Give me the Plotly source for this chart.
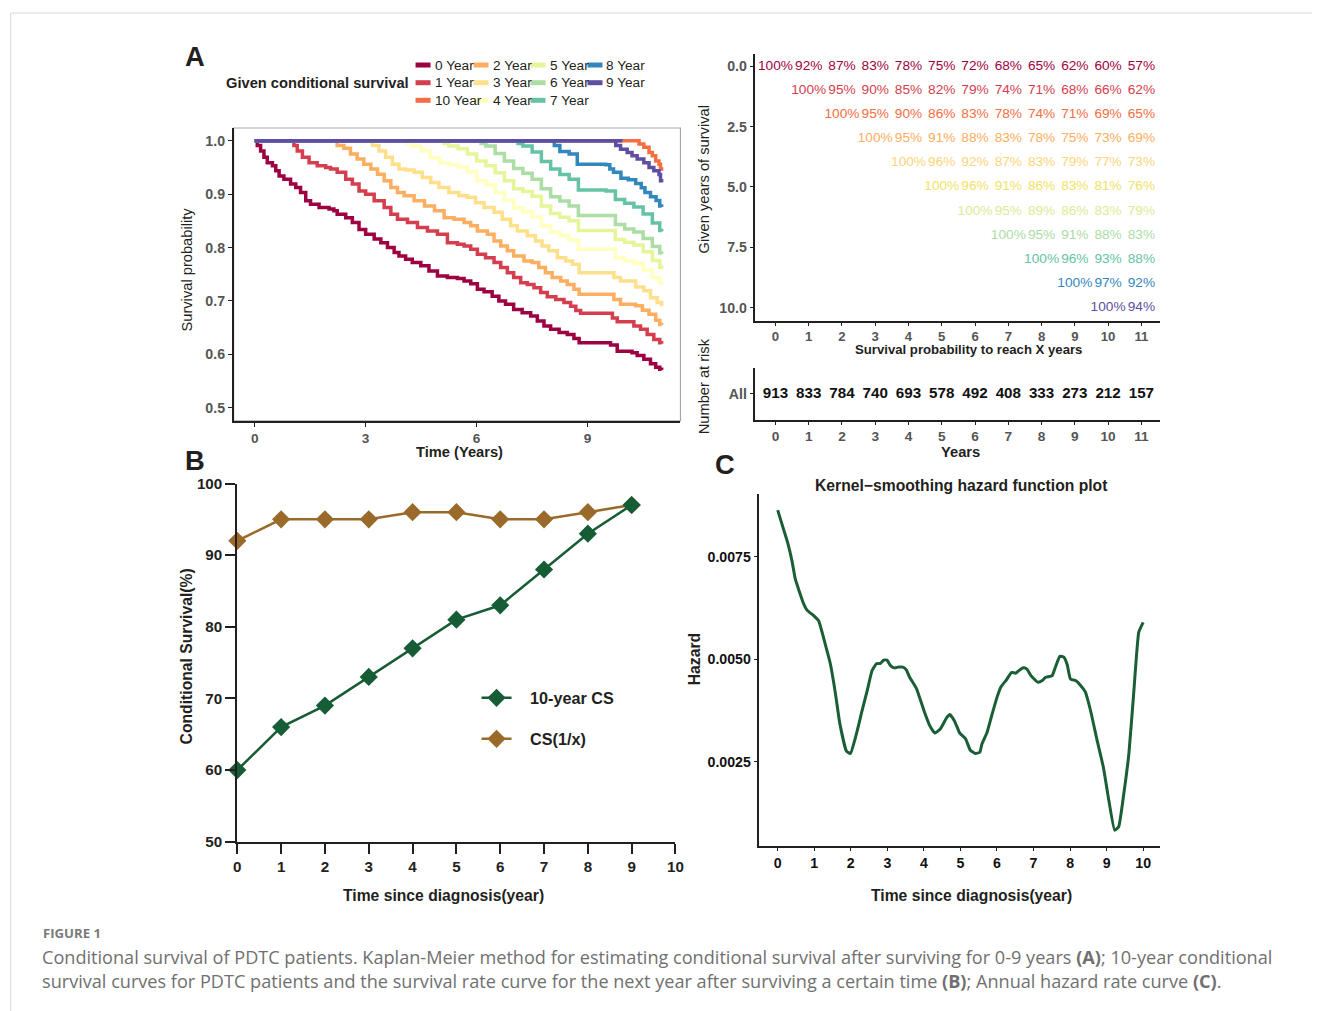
import plotly.graph_objects as go

# ---------------- DATA ----------------
# Panel A: Kaplan-Meier conditional survival curves (time in years, survival)
t0 = [0, 0.07, 0.16, 0.25, 0.34, 0.48, 0.57, 0.66, 0.79, 0.97, 1.11, 1.24, 1.38, 1.51, 1.74, 2.01, 2.14, 2.23, 2.46, 2.64,
      2.82, 3.0, 3.23, 3.41, 3.59, 3.77, 3.9, 4.08, 4.26, 4.49, 4.71, 4.94, 5.21, 5.48, 5.66, 5.84, 6.02, 6.2, 6.42, 6.6,
      6.78, 7.0, 7.23, 7.46, 7.64, 7.82, 8.0, 8.23, 8.45, 8.63, 8.77, 9.49, 9.62, 9.8, 10.2, 10.34, 10.52, 10.7, 10.84, 10.95, 11.0]
s0 = [1, .991, .981, .969, .959, .953, .944, .934, .928, .919, .9125, .903, .8875, .881, .875, .872, .869, .8625, .856, .847,
      .834, .825, .816, .809, .80, .791, .784, .778, .772, .766, .756, .747, .744, .742, .7375, .7325, .722, .7175, .709, .70,
      .694, .684, .678, .672, .6625, .653, .647, .641, .6375, .63, .622, .622, .6175, .606, .603, .598, .591, .5825, .576, .572, .571]
t1 = [0, 1.0, 1.06, 1.15, 1.29, 1.47, 1.69, 1.92, 2.05, 2.23, 2.46, 2.64, 2.82, 3.0, 3.23, 3.5, 3.68, 3.86, 4.13, 4.4,
      4.67, 4.94, 5.21, 5.48, 5.66, 5.84, 6.02, 6.24, 6.47, 6.65, 6.83, 7.0, 7.19, 7.37, 7.55, 7.73, 7.91, 8.14, 8.36, 8.54,
      8.68, 8.81, 9.53, 9.67, 9.8, 10.25, 10.43, 10.61, 10.79, 10.95, 11.0]
s1 = [1, 1, .991, .981, .969, .959, .953, .95, .947, .941, .928, .919, .906, .90, .8875, .875, .8625, .853, .847, .8375,
      .831, .825, .809, .806, .803, .797, .7875, .781, .772, .7625, .753, .744, .734, .731, .725, .716, .708, .703, .697, .69,
      .682, .677, .677, .668, .661, .653, .647, .6375, .628, .622, .62]
t2 = [0, 2.0, 2.23, 2.41, 2.59, 2.77, 2.95, 3.14, 3.32, 3.5, 3.68, 3.86, 4.04, 4.31, 4.59, 4.86, 5.12, 5.39, 5.66, 5.84,
      6.02, 6.29, 6.47, 6.65, 6.83, 7.0, 7.28, 7.5, 7.68, 7.86, 8.04, 8.27, 8.45, 8.63, 8.77, 9.53, 9.71, 9.89, 10.3, 10.48,
      10.66, 10.84, 10.95, 11.0]
s2 = [1, 1, .991, .986, .975, .966, .956, .947, .9375, .925, .9125, .903, .897, .8875, .878, .869, .856, .853, .847, .841,
      .831, .825, .8125, .803, .794, .784, .775, .772, .7625, .753, .744, .7375, .731, .722, .7125, .7125, .703, .694, .691, .6825,
      .675, .664, .656, .655]
t3 = [0, 3.0, 3.18, 3.36, 3.54, 3.72, 3.9, 4.08, 4.31, 4.53, 4.76, 4.98, 5.25, 5.52, 5.75, 5.97, 6.2, 6.47, 6.69, 6.92,
      7.1, 7.37, 7.59, 7.77, 7.95, 8.18, 8.41, 8.59, 8.77, 9.53, 9.71, 9.89, 10.3, 10.52, 10.7, 10.88, 11.0]
s3 = [1, 1, .991, .981, .969, .956, .947, .945, .941, .931, .922, .9125, .903, .897, .894, .884, .875, .866, .853, .841,
      .831, .822, .8125, .803, .794, .781, .775, .769, .753, .753, .744, .7375, .726, .719, .706, .697, .69]
t4 = [0, 4.0, 4.12, 4.25, 4.5, 4.75, 5.0, 5.25, 5.5, 5.75, 6.0, 6.25, 6.5, 6.75, 7.0, 7.25, 7.5, 7.75, 8.0, 8.25,
      8.5, 8.75, 9.5, 9.75, 10.0, 10.25, 10.5, 10.75, 10.95, 11.0]
s4 = [1, 1, .995, .99, .981, .968, .958, .955, .951, .942, .925, .917, .903, .889, .874, .867, .857, .841, .829, .822,
      .814, .797, .797, .781, .775, .771, .758, .744, .733, .731]
t5 = [0, 5.0, 5.12, 5.25, 5.5, 5.75, 6.0, 6.25, 6.5, 6.75, 7.0, 7.25, 7.5, 7.75, 8.0, 8.25, 8.5, 8.75, 9.5, 9.75,
      10.0, 10.25, 10.5, 10.75, 10.95, 11.0]
s5 = [1, 1, .995, .99, .985, .975, .962, .953, .94, .925, .91, .905, .896, .878, .864, .857, .85, .832, .832, .815,
      .81, .805, .792, .776, .763, .76]
t6 = [0, 6.0, 6.12, 6.25, 6.5, 6.75, 7.0, 7.25, 7.5, 7.75, 8.0, 8.25, 8.5, 8.75, 9.5, 9.75, 10.0, 10.25, 10.5, 10.75,
      10.95, 11.0]
s6 = [1, 1, .995, .99, .976, .962, .948, .939, .928, .91, .895, .887, .878, .86, .86, .843, .835, .829, .817, .802,
      .79, .788]
t7 = [0, 7.0, 7.12, 7.25, 7.5, 7.75, 8.0, 8.25, 8.5, 8.75, 9.5, 9.75, 10.0, 10.25, 10.5, 10.75, 10.95, 11.0]
s7 = [1, 1, .995, .99, .979, .961, .947, .937, .928, .908, .906, .89, .883, .876, .863, .846, .832, .83]
t8 = [0, 8.0, 8.1, 8.25, 8.5, 8.72, 9.49, 9.6, 9.7, 9.9, 10.1, 10.3, 10.45, 10.55, 10.7, 10.85, 10.95, 11.0]
s8 = [1, 1, .991, .98, .975, .956, .955, .947, .941, .93, .927, .92, .912, .903, .895, .888, .878, .876]
t9 = [0, 9.67, 9.76, 9.89, 10.07, 10.2, 10.34, 10.52, 10.66, 10.79, 10.93, 10.97, 11.0]
s9 = [1, 1, .991, .984, .978, .972, .966, .959, .95, .944, .937, .925, .922]
t10 = [0, 10.25, 10.39, 10.52, 10.66, 10.75, 10.84, 10.93, 10.97, 11.0]
s10 = [1, 1, .994, .988, .978, .972, .962, .956, .947, .944]
t9_top = [0, 9.94]
s9_top = [1, 1]

curve_names = ["0 Year", "1 Year", "10 Year", "2 Year", "3 Year", "4 Year",
               "5 Year", "6 Year", "7 Year", "8 Year", "9 Year"]
curve_colors = ["#9E0142", "#D53E4F", "#F46D43", "#FDAE61", "#FEE08B", "#FFFFBF",
                "#E6F598", "#ABDDA4", "#66C2A5", "#3288BD", "#5E4FA2"]
curve_times = [t0, t1, t10, t2, t3, t4, t5, t6, t7, t8, t9]
curve_surv = [s0, s1, s10, s2, s3, s4, s5, s6, s7, s8, s9]

# Conditional survival table (row = given years survived, values at years row..11)
cs_table = [
    [100, 92, 87, 83, 78, 75, 72, 68, 65, 62, 60, 57],
    [100, 95, 90, 85, 82, 79, 74, 71, 68, 66, 62],
    [100, 95, 90, 86, 83, 78, 74, 71, 69, 65],
    [100, 95, 91, 88, 83, 78, 75, 73, 69],
    [100, 96, 92, 87, 83, 79, 77, 73],
    [100, 96, 91, 86, 83, 81, 76],
    [100, 95, 89, 86, 83, 79],
    [100, 95, 91, 88, 83],
    [100, 96, 93, 88],
    [100, 97, 92],
    [100, 94],
]
row_colors = ["#9E0142", "#D53E4F", "#F46D43", "#FDAE61", "#FBD57E", "#F2E266",
              "#DDEB97", "#ABDDA4", "#66C2A5", "#3288BD", "#5E4FA2"]
table_years = list(range(12))
risk_counts = [913, 833, 784, 740, 693, 578, 492, 408, 333, 273, 212, 157]

# Panel B
b_years = [0, 1, 2, 3, 4, 5, 6, 7, 8, 9]
cs10 = [60, 66, 69, 73, 77, 81, 83, 88, 93, 97]
cs1x = [92, 95, 95, 95, 96, 96, 95, 95, 96, 97]

# Panel C: kernel-smoothed hazard
ht = [0, 0.16, 0.27, 0.39, 0.48, 0.60, 0.71, 0.80, 0.99, 1.12, 1.30, 1.44, 1.58, 1.70, 1.88, 1.99, 2.13, 2.31, 2.45, 2.58,
      2.70, 2.81, 2.90, 2.99, 3.08, 3.19, 3.31, 3.43, 3.52, 3.61, 3.80, 4.00, 4.16, 4.30, 4.45, 4.62, 4.71, 4.84, 4.98, 5.14,
      5.27, 5.41, 5.53, 5.59, 5.73, 5.87, 6.00, 6.11, 6.26, 6.40, 6.51, 6.62, 6.73, 6.82, 6.93, 7.12, 7.24, 7.33, 7.51, 7.60,
      7.72, 7.83, 7.92, 8.01, 8.15, 8.27, 8.42, 8.56, 8.74, 8.91, 9.06, 9.22, 9.33, 9.47, 9.61, 9.74, 9.88, 10.0]
hz = [0.00864, 0.00817, 0.00785, 0.00740, 0.00696, 0.00663, 0.00635, 0.00620, 0.00606, 0.00594, 0.00537, 0.00489, 0.00416,
      0.00343, 0.00276, 0.00270, 0.00310, 0.00375, 0.00424, 0.00472, 0.00489, 0.00490, 0.00498, 0.00498, 0.00485, 0.00479,
      0.00481, 0.00481, 0.00474, 0.00456, 0.00428, 0.00375, 0.00338, 0.00320, 0.00330, 0.00357, 0.00365, 0.00349, 0.00320,
      0.00306, 0.00278, 0.00270, 0.00273, 0.00294, 0.00322, 0.00367, 0.00407, 0.00433, 0.00450, 0.00468, 0.00466, 0.00474,
      0.00479, 0.00476, 0.00460, 0.00444, 0.00448, 0.00456, 0.00460, 0.00481, 0.00507, 0.00505, 0.00487, 0.00452, 0.00448,
      0.00438, 0.00420, 0.00375, 0.00302, 0.00237, 0.00156, 0.00083, 0.00091, 0.00172, 0.00270, 0.00416, 0.00566, 0.00590]

# ---------------- FIGURE ----------------
# Layout is given in target-picture pixels; these map them onto the page (body margin + capture scaling).
MARGIN = 8
SX, OX = 0.9912, 3.4
SY, OY = 0.9836, 8.1
FS = 1 / ((SX + SY) / 2)
W, H = 1320, 1011
def px(x): return ((x - OX) / SX - MARGIN) / W
def py(y): return 1 - ((y - OY) / SY - MARGIN) / H
def f(s): return s * FS

FONT = "Liberation Sans, Arial, Helvetica, sans-serif"
DARK = "#231F20"
GRAY = "#555555"

fig = go.Figure()

# Panel A curves
for name, col, tt, ss in zip(curve_names, curve_colors, curve_times, curve_surv):
    fig.add_trace(go.Scatter(x=tt, y=ss, mode="lines", line=dict(color=col, width=3.5, shape="hv"),
                             name=name, showlegend=False, xaxis="x", yaxis="y"))
fig.add_trace(go.Scatter(x=t9_top, y=s9_top, mode="lines", line=dict(color=curve_colors[10], width=3.5),
                         showlegend=False, xaxis="x", yaxis="y"))

# Table text
tx, ty, ttxt, tcol = [], [], [], []
for r, row in enumerate(cs_table):
    for j, v in enumerate(row):
        tx.append(table_years[r + j]); ty.append(r); ttxt.append(f"{v}%"); tcol.append(row_colors[r])
fig.add_trace(go.Scatter(x=tx, y=ty, mode="text", text=ttxt, textfont=dict(family=FONT, size=f(13.5), color=tcol),
                         showlegend=False, xaxis="x2", yaxis="y2", cliponaxis=False))
fig.add_trace(go.Scatter(x=table_years, y=[0] * len(risk_counts), mode="text", text=[str(v) for v in risk_counts],
                         textfont=dict(family=FONT, size=f(15), color="#111111", weight="bold"),
                         showlegend=False, xaxis="x3", yaxis="y3", cliponaxis=False))

# Panel B (brown drawn first, green on top)
fig.add_trace(go.Scatter(x=b_years, y=cs1x, mode="lines+markers", name="\u00a0\u00a0\u00a0CS(1/x)",
                         line=dict(color="#9A6A2A", width=2.5),
                         marker=dict(symbol="diamond", size=14, color="#9A6A2A"),
                         xaxis="x4", yaxis="y4", cliponaxis=False, legendgroup="b", legendrank=2))
fig.add_trace(go.Scatter(x=b_years, y=cs10, mode="lines+markers", name="\u00a0\u00a0\u00a010-year CS",
                         line=dict(color="#165C35", width=2.5),
                         marker=dict(symbol="diamond", size=14, color="#165C35"),
                         xaxis="x4", yaxis="y4", cliponaxis=False, legendgroup="a", legendrank=1))

# Panel C
fig.add_trace(go.Scatter(x=ht, y=hz, mode="lines", line=dict(color="#1A5E36", width=3, shape="spline", smoothing=0.4),
                         showlegend=False, xaxis="x5", yaxis="y5"))

def ax(domain, rng, tickvals, ticktext=None, size=14, color=GRAY, lw=1.5, ticklen=4, tickwidth=1.2, anchor=None):
    d = dict(domain=domain, range=rng, tickvals=tickvals, showgrid=False, zeroline=False,
             showline=True, linecolor=DARK, linewidth=lw, ticks="outside", ticklen=ticklen,
             tickwidth=tickwidth, tickcolor=DARK,
             tickfont=dict(family=FONT, size=f(size), color=color, weight="bold"), fixedrange=True)
    if ticktext is not None:
        d["ticktext"] = ticktext
    if anchor:
        d["anchor"] = anchor
    return d

layout = dict(
    width=W, height=H, margin=dict(l=0, r=0, t=0, b=0),
    paper_bgcolor="white", plot_bgcolor="rgba(0,0,0,0)",
    font=dict(family=FONT, color=DARK),
    # Panel A
    xaxis=ax([px(233), px(680)], [-0.57, 11.51], [0, 3, 6, 9], size=13.5, anchor="y"),
    yaxis=ax([py(420), py(127)], [0.4756, 1.0239], [0.5, 0.6, 0.7, 0.8, 0.9, 1.0],
             ["0.5", "0.6", "0.7", "0.8", "0.9", "1.0"], anchor="x"),
    # Table
    xaxis2=ax([px(755), px(1160)], [-0.601, 11.57], table_years, size=13, ticklen=3, anchor="y2"),
    yaxis2=ax([py(320), py(53)], [10.54, -0.50], [0, 2.5, 5, 7.5, 10], ["0.0", "2.5", "5.0", "7.5", "10.0"], anchor="x2"),
    # Risk table
    xaxis3=ax([px(755), px(1160)], [-0.601, 11.57], table_years, size=13.5, ticklen=3, anchor="y3"),
    yaxis3=ax([py(419), py(367)], [-1, 1], [0], ["All"], anchor="x3"),
    # Panel B
    xaxis4=ax([px(236.7), px(675)], [0, 10], list(range(11)), size=15, color=DARK, lw=2, ticklen=10, tickwidth=2, anchor="y4"),
    yaxis4=ax([py(841), py(482.7)], [50, 100], [50, 60, 70, 80, 90, 100], size=15, color=DARK, lw=2, ticklen=10,
              tickwidth=2, anchor="x4"),
    # Panel C
    xaxis5=ax([px(759), px(1160)], [-0.5, 10.47], list(range(11)), size=14, color="#111111", ticklen=3, anchor="y5"),
    yaxis5=ax([py(845.7), py(492.7)], [0.000434, 0.009044], [0.0025, 0.005, 0.0075], ["0.0025", "0.0050", "0.0075"],
              size=14, color="#111111", anchor="x5"),
    showlegend=True,
    legend=dict(x=px(476), y=py(680), xanchor="left", yanchor="top", bgcolor="rgba(0,0,0,0)",
                font=dict(family=FONT, size=f(16), color=DARK, weight="bold"), tracegroupgap=17,
                itemclick=False, itemdoubleclick=False),
)
fig.update_layout(**layout)

shapes = []
# Page border lines
shapes.append(dict(type="line", xref="paper", yref="paper", x0=px(10), x1=px(1320), y0=py(12), y1=py(12),
                   line=dict(color="#D9D9D9", width=1)))
shapes.append(dict(type="line", xref="paper", yref="paper", x0=px(10), x1=px(10), y0=py(12), y1=py(1011),
                   line=dict(color="#D9D9D9", width=1)))
# Panel A frame (top/right light gray)
shapes.append(dict(type="rect", xref="paper", yref="paper", x0=px(233), x1=px(680), y0=py(420), y1=py(127),
                   line=dict(color="#A8A8A8", width=1.2), layer="below"))

annotations = []
def ann(text, x, y, size=14, bold=False, color=DARK, xanchor="center", angle=0, family=FONT):
    annotations.append(dict(text=text, x=px(x), y=py(y), xref="paper", yref="paper", showarrow=False,
                            xanchor=xanchor, yanchor="middle", textangle=angle,
                            font=dict(family=family, size=f(size), color=color, weight="bold" if bold else "normal")))

# Panel letters
ann("A", 194, 55, size=27, bold=True)
ann("B", 194, 460, size=27, bold=True)
ann("C", 725, 464, size=27, bold=True)

# Panel A titles and legend
ann("Survival probability", 186, 269, size=14.5, angle=-90)
ann("Time (Years)", 459, 451, size=14.5, bold=True)
ann("Given conditional survival", 410, 81.5, size=14.5, bold=True, xanchor="right")
legend_cols = [[0, 1, 2], [3, 4, 5], [6, 7, 8], [9, 10]]
col_x = [415, 473, 530, 587]
row_y = [64, 81.7, 99.3]
for ci, items in enumerate(legend_cols):
    for ri, idx in enumerate(items):
        shapes.append(dict(type="line", xref="paper", yref="paper", x0=px(col_x[ci]), x1=px(col_x[ci] + 15),
                           y0=py(row_y[ri]), y1=py(row_y[ri]), line=dict(color=curve_colors[idx], width=5)))
        ann(curve_names[idx], col_x[ci] + 17, row_y[ri], size=13.5, xanchor="left")

# Table titles
ann("Given years of survival", 703, 178, size=14.5, angle=-90)
ann("Survival probability to reach X years", 968, 349, size=13, bold=True)
ann("Number at risk", 703, 385, size=14.5, angle=-90)
ann("Years", 960, 451, size=14.5, bold=True)

# Panel B titles
ann("Conditional Survival(%)", 186, 656, size=15.5, bold=True, angle=-90)
ann("Time since diagnosis(year)", 443, 895, size=15.5, bold=True)

# Panel C titles
ann("Kernel\u2212smoothing hazard function plot", 961, 485, size=15.5, bold=True)
ann("Hazard", 694, 658, size=15.5, bold=True, angle=-90)
ann("Time since diagnosis(year)", 971, 895, size=15.5, bold=True)

# Caption
CAP = "Open Sans, Lato, sans-serif"
ann("FIGURE 1", 40, 932, size=13, color="#7A7A7A", xanchor="left", family=CAP, bold=True)
ann("Conditional survival of PDTC patients. Kaplan-Meier method for estimating conditional survival after surviving for 0-9 years "
    "<b>(A)</b>; 10-year conditional", 39, 956, size=17.9, color="#707070", xanchor="left", family=CAP)
ann("survival curves for PDTC patients and the survival rate curve for the next year after surviving a certain time "
    "<b>(B)</b>; Annual hazard rate curve <b>(C)</b>.", 39, 980, size=17.9, color="#707070", xanchor="left", family=CAP)

fig.update_layout(shapes=shapes, annotations=annotations)
fig.write_html("out.html")
